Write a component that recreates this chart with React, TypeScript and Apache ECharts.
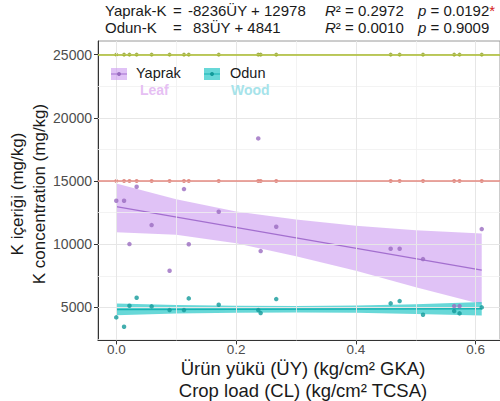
import React, { useEffect, useRef } from "react";
import * as echarts from "echarts";

// ---- data ----
const cropLoad = [0, 0.013, 0.022, 0.034, 0.059, 0.089, 0.113, 0.121, 0.171, 0.237, 0.241, 0.267, 0.458, 0.473, 0.512, 0.564, 0.573, 0.61];
const leafK = [13434, 13434, 10008, 14541, 11511, 7900, 14359, 10000, 12563, 18370, 9454, 11377, 9636, 9636, 8821, 5100, 5100, 11195];
const woodK = [4209, 3465, 5127, 5760, 5079, 4786, 4786, 5712, 5206, 4786, 4549, 5657, 5316, 5498, 4415, 4707, 4525, 5000];
const refLow = 15000;
const refHigh = 25000;
const leafFit = { a: 12978, b: -8236 };
const woodFit = { a: 4841, b: 83 };
const fitX = [0, 0.61];
const bandX = [0, 0.1, 0.2, 0.3, 0.4, 0.5, 0.61];
const leafUpper = [14800, 13550, 12580, 11950, 11450, 11100, 10850];
const leafLower = [10950, 10750, 10080, 9050, 7900, 6600, 5250];
const woodUpper = [5300, 5180, 5120, 5110, 5150, 5250, 5420];
const woodLower = [4380, 4520, 4580, 4600, 4570, 4480, 4360];
const xTicks = [0, 0.2, 0.4, 0.6];
const xMinor = [0.1, 0.3, 0.5];
const yTicks = [5000, 10000, 15000, 20000, 25000];
const yMinor = [2500, 7500, 12500, 17500, 22500];
const xMin = -0.0305;
const xMax = 0.6405;
const yMin = 2388;
const yMax = 26077;

const FONT = "'Liberation Sans', Arial, sans-serif";

export default function App() {
  const ref = useRef<HTMLDivElement>(null);
  useEffect(() => {
    if (!ref.current) return;
    const chart = echarts.init(ref.current, null, { renderer: "svg" });

    const band = (upper: number[], lower: number[], fill: string, z: number) => ({
      type: "custom",
      silent: true,
      z,
      data: [[0, 0]],
      renderItem: (_p: any, api: any) => {
        const top = bandX.map((x, i) => api.coord([x, upper[i]]));
        const bot = bandX.map((x, i) => api.coord([x, lower[i]])).reverse();
        return { type: "polygon", shape: { points: top.concat(bot) }, style: { fill } };
      },
    });

    const gridLine = (arr: number[], key: "xAxis" | "yAxis", color: string, width: number) =>
      arr.map((v) => ({ [key]: v, lineStyle: { color, width, type: "solid" } }));

    const option: any = {
      animation: false,
      grid: { left: 98, top: 41, width: 410, height: 299.4, show: true, borderColor: "#9a9a9a", borderWidth: 1, backgroundColor: "#fff" },
      xAxis: {
        type: "value",
        min: xMin,
        max: xMax,
        axisLine: { show: true, onZero: false, lineStyle: { color: "#333", width: 1 } },
        axisTick: { show: true, customValues: xTicks, length: 4, lineStyle: { color: "#333" } },
        axisLabel: { customValues: xTicks, formatter: (v: number) => v.toFixed(1), color: "#4d4d4d", fontSize: 13.5, margin: 2, fontFamily: FONT },
        splitLine: { show: false },
      },
      yAxis: {
        type: "value",
        min: yMin,
        max: yMax,
        axisLine: { show: true, onZero: false, lineStyle: { color: "#333", width: 1 } },
        axisTick: { show: true, customValues: yTicks, length: 4, lineStyle: { color: "#333" } },
        axisLabel: { customValues: yTicks, formatter: (v: number) => String(Math.round(v)), color: "#4d4d4d", fontSize: 14, margin: 6, fontFamily: FONT },
        splitLine: { show: false },
      },
      series: [
        {
          type: "scatter",
          name: "grid",
          data: [],
          silent: true,
          z: 1,
          markLine: {
            silent: true,
            symbol: "none",
            label: { show: false },
            data: [
              ...gridLine(xMinor, "xAxis", "#f0f0f0", 0.8),
              ...gridLine(yMinor, "yAxis", "#f0f0f0", 0.8),
              ...gridLine(xTicks, "xAxis", "#e6e6e6", 1),
              ...gridLine(yTicks, "yAxis", "#e6e6e6", 1),
            ],
          },
        },
        band(leafUpper, leafLower, "rgba(204,153,240,0.6)", 2),
        band(woodUpper, woodLower, "rgba(40,200,200,0.7)", 2),
        {
          type: "line",
          name: "leafFit",
          z: 3,
          showSymbol: false,
          data: fitX.map((x) => [x, leafFit.a + leafFit.b * x]),
          lineStyle: { color: "#a36fcf", width: 1.2 },
        },
        {
          type: "line",
          name: "woodFit",
          z: 3,
          showSymbol: false,
          data: fitX.map((x) => [x, woodFit.a + woodFit.b * x]),
          lineStyle: { color: "#17b3b3", width: 1.5 },
        },
        {
          type: "scatter",
          name: "refLow",
          z: 4,
          symbolSize: 4,
          data: cropLoad.map((x) => [x, refLow]),
          itemStyle: { color: "#d9736a" },
          markLine: {
            silent: true,
            symbol: "none",
            label: { show: false },
            data: [{ yAxis: refLow }],
            lineStyle: { color: "#e58a80", width: 1.6, type: "solid" },
          },
        },
        {
          type: "scatter",
          name: "refHigh",
          z: 4,
          symbolSize: 4,
          data: cropLoad.map((x) => [x, refHigh]),
          itemStyle: { color: "#8a9c1e" },
          markLine: {
            silent: true,
            symbol: "none",
            label: { show: false },
            data: [{ yAxis: refHigh }],
            lineStyle: { color: "#a9ba2a", width: 1.6, type: "solid" },
          },
        },
        {
          type: "scatter",
          name: "Yaprak",
          z: 5,
          symbolSize: 4.5,
          data: cropLoad.map((x, i) => [x, leafK[i]]),
          itemStyle: { color: "#9a6cc0" },
        },
        {
          type: "scatter",
          name: "Odun",
          z: 5,
          symbolSize: 4.5,
          data: cropLoad.map((x, i) => [x, woodK[i]]),
          itemStyle: { color: "#139a9a" },
        },
      ],
      graphic: [
        // title equations
        ...[
          { y: 10, parts: [["Yaprak-K", 105], ["=", 173], ["-8236ÜY + 12978", 188], ["{i|R}² = 0.2972", 325], ["{i|p} = 0.0192{r|*}", 418]] },
          { y: 27, parts: [["Odun-K", 105], ["=", 173], ["83ÜY + 4841", 193], ["{i|R}² = 0.0010", 325], ["{i|p} = 0.9009", 418]] },
        ].flatMap((row) =>
          row.parts.map(([t, x]) => ({
            type: "text",
            x: x as number,
            y: row.y,
            style: {
              text: t as string,
              fontSize: 15,
              fontFamily: FONT,
              fill: "#1a1a1a",
              verticalAlign: "middle",
              align: "left",
              rich: {
                i: { fontStyle: "italic", fontSize: 15, fontFamily: FONT, fill: "#1a1a1a" },
                r: { fontSize: 15, fontFamily: FONT, fill: "#d62020" },
              },
            },
          }))
        ),
        // y axis title
        {
          type: "text",
          x: 17,
          y: 194,
          rotation: Math.PI / 2,
          style: { text: "K içeriği (mg/kg)", fontSize: 17, fontFamily: FONT, fill: "#1a1a1a", align: "center", verticalAlign: "middle" },
        },
        {
          type: "text",
          x: 39,
          y: 194,
          rotation: Math.PI / 2,
          style: { text: "K concentration (mg/kg)", fontSize: 17, fontFamily: FONT, fill: "#1a1a1a", align: "center", verticalAlign: "middle" },
        },
        // x axis title
        {
          type: "text",
          x: 303,
          y: 368,
          style: { text: "Ürün yükü (ÜY) (kg/cm² GKA)", fontSize: 18.5, fontFamily: FONT, fill: "#1a1a1a", align: "center", verticalAlign: "middle" },
        },
        {
          type: "text",
          x: 303,
          y: 390,
          style: { text: "Crop load (CL) (kg/cm² TCSA)", fontSize: 18.5, fontFamily: FONT, fill: "#1a1a1a", align: "center", verticalAlign: "middle" },
        },
        // legend
        { type: "rect", shape: { x: 111, y: 68, width: 16, height: 12 }, style: { fill: "rgba(204,153,240,0.6)" }, z: 10 },
        { type: "line", shape: { x1: 111, y1: 74, x2: 127, y2: 74 }, style: { stroke: "#a36fcf", lineWidth: 1 }, z: 11 },
        { type: "circle", shape: { cx: 119, cy: 74, r: 2 }, style: { fill: "#9a6cc0" }, z: 11 },
        { type: "text", x: 136, y: 73, z: 11, style: { text: "Yaprak", fontSize: 14.5, fontFamily: FONT, fill: "#1a1a1a", verticalAlign: "middle" } },
        { type: "text", x: 140, y: 90, z: 11, style: { text: "Leaf", fontSize: 14, fontWeight: "bold", fontFamily: FONT, fill: "#e6bff3", verticalAlign: "middle" } },
        { type: "rect", shape: { x: 204, y: 68, width: 16, height: 12 }, style: { fill: "rgba(40,200,200,0.7)" }, z: 10 },
        { type: "line", shape: { x1: 204, y1: 74, x2: 220, y2: 74 }, style: { stroke: "#17b3b3", lineWidth: 1 }, z: 11 },
        { type: "circle", shape: { cx: 212, cy: 74, r: 2 }, style: { fill: "#139a9a" }, z: 11 },
        { type: "text", x: 230, y: 73, z: 11, style: { text: "Odun", fontSize: 14.5, fontFamily: FONT, fill: "#1a1a1a", verticalAlign: "middle" } },
        { type: "text", x: 231, y: 90, z: 11, style: { text: "Wood", fontSize: 14, fontWeight: "bold", fontFamily: FONT, fill: "#a6e3ea", verticalAlign: "middle" } },
      ],
    };
    chart.setOption(option);
    return () => chart.dispose();
  }, []);
  return <div ref={ref} style={{ position: "absolute", left: 0, top: 0, width: 500, height: 401, background: "#fff" }} />;
}
